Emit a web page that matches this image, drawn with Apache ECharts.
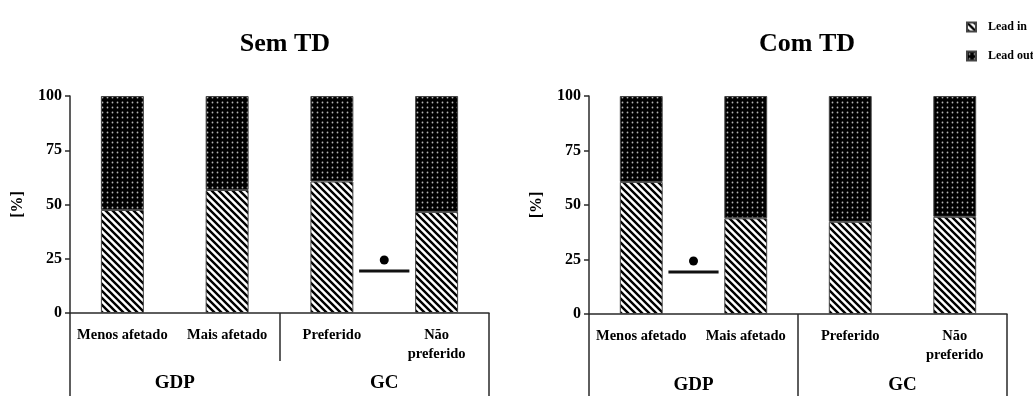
<!DOCTYPE html>
<html>
<head>
<meta charset="utf-8">
<title>Lead in / Lead out</title>
<script src="https://cdn.jsdelivr.net/npm/echarts@6/dist/echarts.min.js"></script>
<style>
  html, body { margin: 0; padding: 0; background: #fff; }
  #chart { width: 1033px; height: 396px; }
</style>
</head>
<body>
<div id="chart"></div>
<script>
// Categories and groups shared by both panels
const categories = ['Menos afetado', 'Mais afetado', 'Preferido', 'Não\npreferido'];
const groups = ['GDP', 'GC'];
const panelTitles = ['Sem TD', 'Com TD'];
const seriesNames = ['Lead in', 'Lead out'];

// Percentages per category
const leadInSem = [47.5, 56.7, 60.6, 46.6];
const leadOutSem = [52.5, 43.3, 39.4, 53.4];
const leadInCom = [60.6, 43.9, 42.3, 44.6];
const leadOutCom = [39.4, 56.1, 57.7, 55.4];

// Y axis scale
const yMin = 0, yMax = 100, yStep = 25;

// Significance marks: [left category index, bar level, dot level]
const sigSem = [[2, 19.4, 24.4]];
const sigCom = [[0, 19.3, 24.3]];

const SERIF = '"Liberation Serif", "DejaVu Serif", serif';

// Diagonal hatch (top-left to bottom-right) on white
function hatchPattern() {
  const s = 7;
  const c = document.createElement('canvas');
  c.width = s; c.height = s;
  const g = c.getContext('2d');
  g.fillStyle = '#fff';
  g.fillRect(0, 0, s, s);
  g.strokeStyle = '#000';
  g.lineWidth = 2.4;
  g.beginPath();
  g.moveTo(-1, -1); g.lineTo(s + 1, s + 1);
  g.moveTo(-1, s - 1); g.lineTo(1, s + 1);
  g.moveTo(s - 1, -1); g.lineTo(s + 1, 1);
  g.stroke();
  return c;
}

// Light dots on black
function dotPattern() {
  const s = 5;
  const c = document.createElement('canvas');
  c.width = s; c.height = s;
  const g = c.getContext('2d');
  g.fillStyle = '#000';
  g.fillRect(0, 0, s, s);
  g.fillStyle = '#b4b4b4';
  g.beginPath();
  g.arc(2.5, 2.5, 0.9, 0, Math.PI * 2);
  g.fill();
  return c;
}

const hatchFill = { image: hatchPattern(), repeat: 'repeat' };
const dotFill = { image: dotPattern(), repeat: 'repeat' };

const chart = echarts.init(document.getElementById('chart'), null, { renderer: 'canvas' });

const axisColor = '#2a2a2a';

function mainXAxis(gridIndex) {
  return {
    type: 'category', gridIndex, data: categories, position: 'bottom',
    axisLine: { show: true, lineStyle: { color: axisColor, width: 1.5 } },
    axisTick: { show: false },
    axisLabel: {
      interval: 0, margin: 13, color: '#000',
      fontFamily: SERIF, fontWeight: 'bold', fontSize: 14.5, lineHeight: 19
    },
    splitLine: { show: false }
  };
}

function groupXAxis(gridIndex, tickLen, labelMargin) {
  return {
    type: 'category', gridIndex, data: groups, position: 'bottom', offset: 0,
    axisLine: { show: false },
    axisTick: { show: true, length: tickLen, lineStyle: { color: axisColor, width: 1.5 } },
    axisLabel: {
      interval: 0, margin: labelMargin, color: '#000',
      fontFamily: SERIF, fontWeight: 'bold', fontSize: 19
    },
    splitLine: { show: false }
  };
}

function frameXAxis(gridIndex) {
  return {
    type: 'category', gridIndex, data: [''], position: 'bottom', offset: 0,
    axisLine: { show: false },
    axisTick: { show: true, length: 90, lineStyle: { color: axisColor, width: 1.5 } },
    axisLabel: { show: false },
    splitLine: { show: false }
  };
}

function yAxis(gridIndex) {
  return {
    type: 'value', gridIndex, min: yMin, max: yMax, interval: yStep,
    name: '[%]', nameLocation: 'middle', nameGap: 44, nameRotate: 90,
    nameTextStyle: { fontFamily: SERIF, fontWeight: 'bold', fontSize: 16, color: '#000' },
    axisLine: { show: true, lineStyle: { color: axisColor, width: 1.5 } },
    axisTick: { show: true, inside: false, length: 5, lineStyle: { color: axisColor, width: 1.5 } },
    axisLabel: { margin: 8, color: '#000', fontFamily: SERIF, fontWeight: 'bold', fontSize: 16 },
    splitLine: { show: false }
  };
}

function sigSeries(xAxisIndex, yAxisIndex, data) {
  return {
    type: 'custom', xAxisIndex, yAxisIndex, data, silent: true, z: 5,
    encode: { x: 0, y: 1 },
    renderItem(params, api) {
      const idx = api.value(0);
      const bar = api.coord([idx, api.value(1)]);
      const dot = api.coord([idx, api.value(2)]);
      const band = api.size([1, 0])[0];
      const cx = bar[0] + band / 2;
      const half = band * 0.24;
      return {
        type: 'group',
        children: [
          { type: 'line', shape: { x1: cx - half, y1: bar[1], x2: cx + half, y2: bar[1] },
            style: { stroke: '#111', lineWidth: 3 } },
          { type: 'circle', shape: { cx: cx, cy: dot[1], r: 4.5 }, style: { fill: '#000' } }
        ]
      };
    }
  };
}

function barSeries(name, xAxisIndex, yAxisIndex, stack, data, fill) {
  return {
    name, type: 'bar', xAxisIndex, yAxisIndex, stack, data,
    barWidth: '41%',
    itemStyle: { color: fill, borderColor: '#444', borderWidth: 1 },
    emphasis: { disabled: true }
  };
}

const option = {
  backgroundColor: '#fff',
  animation: false,
  title: [
    { text: panelTitles[0], left: 280, top: 26, textAlign: 'center',
      textStyle: { fontFamily: SERIF, fontWeight: 'bold', fontSize: 26, color: '#000' } },
    { text: panelTitles[1], left: 802, top: 26, textAlign: 'center',
      textStyle: { fontFamily: SERIF, fontWeight: 'bold', fontSize: 26, color: '#000' } }
  ],
  legend: {
    data: seriesNames, orient: 'vertical', left: 961, top: 16,
    itemWidth: 9, itemHeight: 9, itemGap: 17, icon: 'rect',
    textStyle: { fontFamily: SERIF, fontWeight: 'bold', fontSize: 12, color: '#000', padding: [0, 0, 0, 7] },
    selectedMode: false
  },
  grid: [
    { left: 70, right: 544, top: 96, bottom: 83, containLabel: false, outerBoundsMode: 'none' },
    { left: 589, right: 26, top: 96, bottom: 82, containLabel: false, outerBoundsMode: 'none' }
  ],
  xAxis: [
    mainXAxis(0), groupXAxis(0, 48, 61), frameXAxis(0),
    mainXAxis(1), groupXAxis(1, 90, 62)
  ],
  yAxis: [yAxis(0), yAxis(1)],
  series: [
    barSeries('Lead in', 0, 0, 'sem', leadInSem, hatchFill),
    barSeries('Lead out', 0, 0, 'sem', leadOutSem, dotFill),
    barSeries('Lead in', 3, 1, 'com', leadInCom, hatchFill),
    barSeries('Lead out', 3, 1, 'com', leadOutCom, dotFill),
    sigSeries(0, 0, sigSem),
    sigSeries(3, 1, sigCom)
  ]
};

chart.setOption(option);
</script>
</body>
</html>
